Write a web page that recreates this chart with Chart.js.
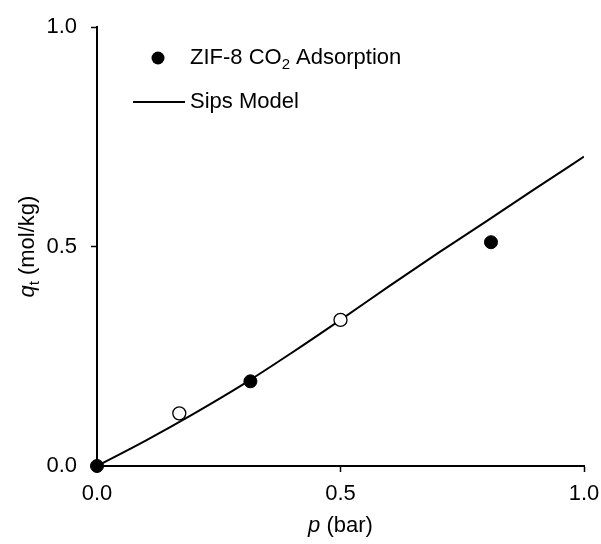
<!DOCTYPE html>
<html>
<head>
<meta charset="utf-8">
<script src="https://cdn.jsdelivr.net/npm/chart.js@4/dist/chart.umd.min.js"></script>
<style>
  html, body { margin: 0; padding: 0; background: #fff; }
  #wrap { width: 601px; height: 544px; }
</style>
</head>
<body>
<div id="wrap"><canvas id="chart" width="601" height="544"></canvas></div>
<script>
// adsorption data (filled) and the open points
const adsP = [0, 0.315, 0.809];
const adsQ = [0, 0.193, 0.510];
const openP = [0.169, 0.5];
const openQ = [0.120, 0.333];

// Sips model curve
const sipsP = [0, 0.1, 0.2, 0.3, 0.4, 0.5, 0.6, 0.7, 0.8, 0.9, 1.0];
const sipsQ = [0, 0.058, 0.120, 0.186, 0.258, 0.333, 0.410, 0.485, 0.558, 0.632, 0.705];

const xTicks = [0, 0.5, 1.0];
const yTicks = [0, 0.5, 1.0];

const FONT = "'Liberation Sans', Arial, sans-serif";
const FS = 22;

function pts(xs, ys) {
  return xs.map(function (x, i) { return { x: x, y: ys[i] }; });
}

// axis titles + legend drawn by hand (mixed italic / subscripts)
const decorations = {
  id: "decorations",
  afterDraw: function (chart) {
    var c = chart.ctx;
    var area = chart.chartArea;
    c.save();
    c.fillStyle = "#000";
    c.textBaseline = "alphabetic";

    // x title: "p (bar)"
    var cx = (area.left + area.right) / 2;
    c.font = "italic " + FS + "px " + FONT;
    var w1 = c.measureText("p").width;
    c.font = FS + "px " + FONT;
    var w2 = c.measureText(" (bar)").width;
    var x0 = cx - (w1 + w2) / 2;
    c.font = "italic " + FS + "px " + FONT;
    c.fillText("p", x0, 532);
    c.font = FS + "px " + FONT;
    c.fillText(" (bar)", x0 + w1, 532);

    // y title: "q_t (mol/kg)"
    c.translate(34, (area.top + area.bottom) / 2);
    c.rotate(-Math.PI / 2);
    c.font = "italic " + FS + "px " + FONT;
    var a = c.measureText("q").width;
    c.font = "15px " + FONT;
    var b = c.measureText("t").width;
    c.font = FS + "px " + FONT;
    var d = c.measureText(" (mol/kg)").width;
    var s = -(a + b + d) / 2;
    c.font = "italic " + FS + "px " + FONT;
    c.fillText("q", s, 0);
    c.font = "15px " + FONT;
    c.fillText("t", s + a, 5);
    c.font = FS + "px " + FONT;
    c.fillText(" (mol/kg)", s + a + b, 0);
    c.restore();

    // legend
    c.save();
    c.fillStyle = "#000";
    c.strokeStyle = "#000";
    c.beginPath();
    c.arc(158, 58, 6.5, 0, Math.PI * 2);
    c.fill();
    c.font = FS + "px " + FONT;
    c.textBaseline = "middle";
    var t1 = "ZIF-8 CO";
    c.fillText(t1, 190, 58);
    var tw = c.measureText(t1).width;
    c.font = "15px " + FONT;
    c.fillText("2", 190 + tw, 65);
    var sw = c.measureText("2").width;
    c.font = FS + "px " + FONT;
    c.fillText(" Adsorption", 190 + tw + sw, 58);

    c.lineWidth = 2;
    c.beginPath();
    c.moveTo(133, 102);
    c.lineTo(185, 102);
    c.stroke();
    c.fillText("Sips Model", 190, 102);
    c.restore();
  }
};

new Chart(document.getElementById("chart"), {
  type: "scatter",
  data: {
    datasets: [
      {
        label: "Sips Model",
        type: "line",
        data: pts(sipsP, sipsQ),
        borderColor: "#000",
        borderWidth: 2,
        pointRadius: 0,
        cubicInterpolationMode: "monotone",
        fill: false,
        order: 2,
      },
      {
        label: "ZIF-8 CO2 Adsorption",
        data: pts(adsP, adsQ),
        backgroundColor: "#000",
        borderColor: "#000",
        pointRadius: 6.5,
        clip: false,
        order: 1,
      },
      {
        label: "open",
        data: pts(openP, openQ),
        backgroundColor: "#fff",
        borderColor: "#000",
        borderWidth: 1.3,
        pointRadius: 6.5,
        clip: false,
        order: 1,
      },
    ],
  },
  options: {
    responsive: false,
    animation: false,
    events: [],
    layout: { padding: { left: 0, right: 17, top: 26, bottom: 0 } },
    plugins: {
      legend: { display: false },
      tooltip: { enabled: false },
    },
    scales: {
      x: {
        type: "linear",
        min: 0,
        max: 1,
        afterBuildTicks: function (s) { s.ticks = xTicks.map(function (v) { return { value: v }; }); },
        afterFit: function (s) {
          s.height = 544 - 466;
          s.paddingLeft = 0;
          s.paddingRight = 0;
        },
        ticks: {
          color: "#000",
          font: { family: FONT, size: FS },
          padding: 9,
          callback: function (v) { return v.toFixed(1); },
        },
        grid: { drawOnChartArea: false, color: "#000", tickLength: 6, tickWidth: 1.5 },
        border: { color: "#000", width: 2 },
      },
      y: {
        type: "linear",
        min: 0,
        max: 1,
        afterBuildTicks: function (s) { s.ticks = yTicks.map(function (v) { return { value: v }; }); },
        afterFit: function (s) { s.width = 97; },
        ticks: {
          color: "#000",
          font: { family: FONT, size: FS },
          padding: 14,
          callback: function (v) { return v.toFixed(1); },
        },
        grid: { drawOnChartArea: false, color: "#000", tickLength: 6, tickWidth: 1.5 },
        border: { color: "#000", width: 2 },
      },
    },
  },
  plugins: [decorations],
});
</script>
</body>
</html>
